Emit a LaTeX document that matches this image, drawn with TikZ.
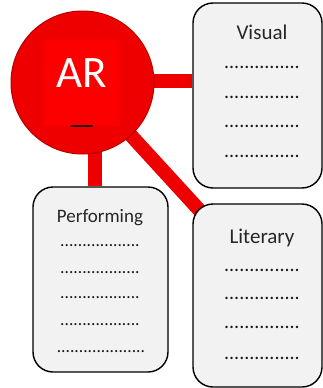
\documentclass[tikz,border=0pt]{standalone}
\usepackage{fontspec}
\setmainfont{Carlito}
\usetikzlibrary{backgrounds}
\definecolor{arred}{RGB}{238,0,0}
\definecolor{arsq}{RGB}{252,0,0}
\definecolor{aredge}{RGB}{180,0,0}
\definecolor{cardfill}{RGB}{242,242,242}

\begin{document}
\begin{tikzpicture}[x=1pt, y=-1pt,
    hub/.style={circle, fill=arred, draw=aredge, line width=1pt, minimum size=143pt, inner sep=0pt},
    card/.style={draw, line width=1.4pt, fill=cardfill, rounded corners=20pt, inner sep=0pt},
    link/.style={draw=arred, line width=14pt},
    ttl/.style={anchor=base, text=black!85},
    dotrow/.style={anchor=base, text=black!90}
]
\useasboundingbox (0,0) rectangle (323,388);

% Hub
\node[hub] (AR) at (82.5,82.5) {};
\node[fill=arsq, minimum width=77pt, minimum height=86pt, inner sep=0pt] (ARsq) at (81.5,83) {};
\node[anchor=base, text=white, inner sep=0pt, font=\fontsize{45}{50}\selectfont] (ARtxt) at (82,87) {AR};
\node[anchor=base, inner sep=0pt, font=\fontsize{28}{30}\selectfont] (ARbar) at (82,123) {\scalebox{1.58}[1]{\_}};

% Cards
\node[card, minimum width=129pt, minimum height=185pt] (Vis) at (257.5,95.5) {};
\node[card, minimum width=135pt, minimum height=185pt] (Perf) at (100.5,279.5) {};
\node[card, minimum width=129pt, minimum height=183pt] (Lit) at (257.5,295.5) {};

% Card titles
\node[ttl, font=\fontsize{21}{24}\selectfont] (VisT) at (262,39) {Visual};
\node[ttl, font=\fontsize{19}{22}\selectfont] (PerfT) at (100,222) {Performing};
\node[ttl, font=\fontsize{21}{24}\selectfont] (LitT) at (262,243) {Literary};

% Dotted rows
\foreach \y [count=\i] in {67,97,126,156}
  \node[dotrow, font=\fontsize{20}{22}\selectfont] (Vis-\i) at (262,\y+1) {...............};
\foreach \y [count=\i] in {245,272,297,324}
  \node[dotrow, font=\fontsize{17.5}{20}\selectfont] (Perf-\i) at (100,\y+1) {..................};
\node[dotrow, font=\fontsize{17.5}{20}\selectfont] (Perf-5) at (101,352) {....................};
\foreach \y [count=\i] in {270,298,327,358}
  \node[dotrow, font=\fontsize{20}{22}\selectfont] (Lit-\i) at (262,\y+1) {...............};

% Links
\begin{scope}[on background layer]
\draw[link] ([yshift=2pt]AR.center) -- ([yshift=2pt]AR.center -| Vis.west);
\draw[link] ([xshift=12pt]AR.center) -- ([xshift=12pt]AR.center |- Perf.north);
\draw[link] (AR.center) -- ([xshift=10pt,yshift=-10pt]Lit.north west);
\end{scope}
\end{tikzpicture}
\end{document}
